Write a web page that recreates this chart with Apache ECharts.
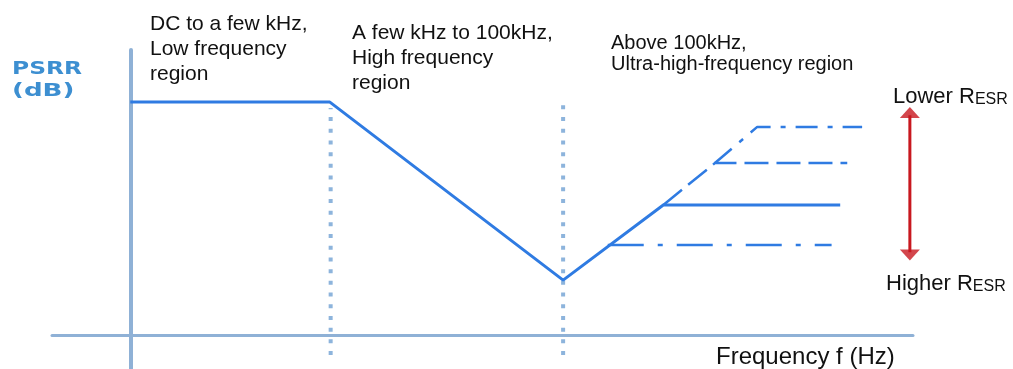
<!DOCTYPE html>
<html>
<head>
<meta charset="utf-8">
<title>PSRR vs frequency</title>
<script src="https://cdn.jsdelivr.net/npm/echarts@6/dist/echarts.min.js"></script>
<style>
  html, body { margin: 0; padding: 0; background: #fff; }
  #main { width: 1013px; height: 369px; }
</style>
</head>
<body>
<div id="main"></div>
<script>
// PSRR curve (abstract log-frequency units on x, dB-ish units on y)
var psrrX = [0, 2.55, 5.53, 6.81, 9.07];
var psrrY = [8.17, 8.17, 1.92, 4.56, 4.56];

// plateaus for different ESR values above 100kHz
var esrHighX = [6.10, 8.96];          // higher ESR, dash-dot
var esrHighY = [3.15, 3.15];
var esrMidX = [6.81, 7.47, 9.16];     // dashed
var esrMidY = [4.56, 6.03, 6.03];
var esrLowX = [7.47, 8.01, 9.35];     // lower ESR, dash-dot
var esrLowY = [6.03, 7.30, 7.30];

// region boundaries (dotted)
var dividerX = [2.56, 5.53];
var dividerTop = [7.96, 8.14];
var dividerBottom = -0.71;

// red ESR arrow
var arrowX = 9.96;
var arrowTop = 7.81;
var arrowBottom = 2.80;

var LINE_BLUE = '#2f7be2';
var AXIS_BLUE = '#8fb1d6';
var DOT_BLUE = '#8db4dc';
var RED = '#c8181f';
var FONT = "'Liberation Sans', Arial, sans-serif";

function pts(xs, ys) {
  var out = [];
  for (var i = 0; i < xs.length; i++) out.push([xs[i], ys[i]]);
  return out;
}

var series = [];

// dotted dividers
for (var i = 0; i < dividerX.length; i++) {
  series.push({
    type: 'line',
    data: [[dividerX[i], dividerBottom], [dividerX[i], dividerTop[i]]],
    symbol: 'none',
    z: 1,
    silent: true,
    lineStyle: { color: DOT_BLUE, width: 4, type: [4, 7.7], cap: 'butt' }
  });
}

series.push({
  type: 'line',
  data: pts(esrHighX, esrHighY),
  symbol: 'none',
  z: 2,
  lineStyle: { color: LINE_BLUE, width: 2.5, type: [36, 14, 5, 14] }
});
series.push({
  type: 'line',
  data: pts(esrMidX, esrMidY),
  symbol: 'none',
  z: 2,
  lineStyle: { color: LINE_BLUE, width: 2.5, type: [24, 8] }
});
series.push({
  type: 'line',
  data: pts(esrLowX, esrLowY),
  symbol: 'none',
  z: 2,
  lineStyle: { color: LINE_BLUE, width: 2.5, type: [22, 10, 5, 10] }
});

// main PSRR line
series.push({
  type: 'line',
  data: pts(psrrX, psrrY),
  symbol: 'none',
  z: 3,
  lineStyle: { color: LINE_BLUE, width: 3 }
});

// arrow shaft + heads
series.push({
  type: 'line',
  data: [[arrowX, arrowTop - 0.1], [arrowX, arrowBottom + 0.1]],
  symbol: 'none',
  z: 3,
  lineStyle: { color: RED, width: 3 }
});
series.push({
  type: 'scatter',
  data: [[arrowX, arrowTop]],
  symbol: 'triangle',
  symbolSize: [20, 11],
  z: 4,
  itemStyle: { color: RED }
});
series.push({
  type: 'scatter',
  data: [[arrowX, arrowBottom]],
  symbol: 'triangle',
  symbolRotate: 180,
  symbolSize: [20, 11],
  z: 4,
  itemStyle: { color: RED }
});

var chart = echarts.init(document.getElementById('main'));
chart.setOption({
  animation: false,
  backgroundColor: '#fff',
  grid: { left: 52, right: 100, top: 50, bottom: 0 },
  xAxis: {
    type: 'value',
    min: -1,
    max: 10,
    axisLine: { onZero: true, lineStyle: { color: AXIS_BLUE, width: 3 } },
    axisTick: { show: false },
    axisLabel: { show: false },
    splitLine: { show: false }
  },
  yAxis: {
    type: 'value',
    min: -1.2,
    max: 10,
    axisLine: { show: true, onZero: true, lineStyle: { color: AXIS_BLUE, width: 4 } },
    axisTick: { show: false },
    axisLabel: { show: false },
    splitLine: { show: false }
  },
  graphic: [
    {
      type: 'text', x: 12, y: 58, scaleX: 1.3,
      style: { text: 'PSRR', fill: '#3d8fd1', font: "bold 18px 'DejaVu Sans'", verticalAlign: 'top', lineHeight: 22 }
    },
    {
      type: 'text', x: 12, y: 80, scaleX: 1.45,
      style: { text: '(dB)', fill: '#3d8fd1', font: "bold 18px 'DejaVu Sans'", verticalAlign: 'top', lineHeight: 22 }
    },
    {
      type: 'text', x: 150, y: 12,
      style: { text: 'DC to a few kHz,\nLow frequency\nregion', fill: '#111', font: '21px ' + FONT, lineHeight: 25, verticalAlign: 'top' }
    },
    {
      type: 'text', x: 352, y: 21,
      style: { text: 'A few kHz to 100kHz,\nHigh frequency\nregion', fill: '#111', font: '21px ' + FONT, lineHeight: 25, verticalAlign: 'top' }
    },
    {
      type: 'text', x: 611, y: 33,
      style: { text: 'Above 100kHz,\nUltra-high-frequency region', fill: '#111', font: '20px ' + FONT, lineHeight: 21, verticalAlign: 'top' }
    },
    {
      type: 'text', x: 893, y: 84,
      style: {
        text: '{a|Lower R}{b|ESR}', verticalAlign: 'top',
        rich: {
          a: { fontSize: 22, fontFamily: FONT, fill: '#111', lineHeight: 24, verticalAlign: 'bottom' },
          b: { fontSize: 16, fontFamily: FONT, fill: '#111', lineHeight: 19, verticalAlign: 'bottom' }
        }
      }
    },
    {
      type: 'text', x: 886, y: 271,
      style: {
        text: '{a|Higher R}{b|ESR}', verticalAlign: 'top',
        rich: {
          a: { fontSize: 22, fontFamily: FONT, fill: '#111', lineHeight: 24, verticalAlign: 'bottom' },
          b: { fontSize: 16, fontFamily: FONT, fill: '#111', lineHeight: 19, verticalAlign: 'bottom' }
        }
      }
    },
    {
      type: 'text', x: 716, y: 344,
      style: { text: 'Frequency f (Hz)', fill: '#111', font: '24px ' + FONT, lineHeight: 27, verticalAlign: 'top' }
    }
  ],
  series: series
});
</script>
</body>
</html>
